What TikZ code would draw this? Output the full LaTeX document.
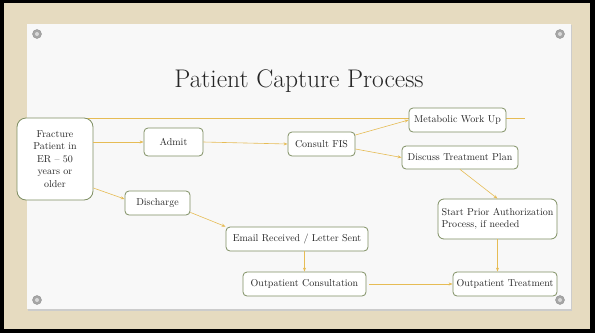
\documentclass[tikz,border=0pt]{standalone}
\usetikzlibrary{arrows.meta}

\definecolor{linen}{HTML}{E6DBC0}
\definecolor{slide}{HTML}{F8F8F8}
\definecolor{gold}{HTML}{E6BC55}
\definecolor{boxgreen}{HTML}{7F8F63}
\definecolor{textgrey}{HTML}{262626}

\begin{document}
\begin{tikzpicture}[x=1pt, y=-1pt,
    box/.style={draw=boxgreen, line width=0.8pt, fill=white, rounded corners=4pt,
        align=center, text=textgrey, inner sep=2pt, minimum height=24pt,
        font=\fontsize{10}{12.5}\selectfont},
    flow/.style={draw=gold, line width=0.6pt, -{Stealth[length=4pt, width=3pt]}},
    screw/.style={fill=gray!70, draw=gray!85, line width=0.4pt}]
        % Slide size in px
        \def\W{595}
        \def\H{333}
        \useasboundingbox (0,0) rectangle (\W,\H);

        % Frame, linen and slide
        \fill[black] (0,0) rectangle (\W,\H);
        \fill[linen] (4,3) rectangle (590,329);
        \fill[black!20] (28,25) rectangle (572,311);
        \fill[slide] (27,24) rectangle (571,309);

        % Screws in the corners
        \foreach \sx/\sy in {37/34, 560/34, 37/300, 560/300} {
            \filldraw[screw] (\sx,\sy) circle (4.5);
            \fill[gray!30] (\sx,\sy) circle (2);
        }

        % Title
        \node[text=textgrey, font=\fontsize{25.5}{30}\selectfont] (title) at (299,81) {Patient Capture Process};

        % Decoration line
        \draw[gold, line width=0.6pt] (27,118) -- (525,118);

        % Boxes
        \node[box, minimum width=76pt, minimum height=82pt, rounded corners=9pt] (fracture) at (55,159)
            {Fracture\\Patient in\\ER -- 50\\years or\\older};
        \node[box, minimum width=59pt, minimum height=28pt] (admit) at (173.5,142) {Admit};
        \node[box, minimum width=67pt] (consult) at (321.5,144) {Consult FIS};
        \node[box, minimum width=97pt] (metabolic) at (457.5,120) {Metabolic Work Up};
        \node[box, minimum width=116pt, minimum height=23pt] (discuss) at (460,157.5) {Discuss Treatment Plan};
        \node[box, minimum width=119pt, minimum height=40pt, align=left, rounded corners=6pt,
            text width=112pt, inner xsep=3.5pt] (prior) at (497.5,219)
            {Start Prior Authorization\\Process, if needed};
        \node[box, minimum width=65pt] (discharge) at (157.5,203) {Discharge};
        \node[box, minimum width=142pt] (email) at (297,239) {Email Received / Letter Sent};
        \node[box, minimum width=123pt] (ocons) at (304.5,284) {Outpatient Consultation};
        \node[box, minimum width=104pt] (otreat) at (505,284) {Outpatient Treatment};

        % Connectors
        \draw[flow] (fracture.east |- admit.west) -- (admit.west);
        \draw[flow] (admit.east) -- (consult.west);
        \draw[flow] ([yshift=9pt]consult.east) -- (metabolic.west);
        \draw[flow] ([yshift=-5pt]consult.east) -- (discuss.west);
        \draw[flow] (discuss.south) -- (prior.north);
        \draw[flow] (prior.south) -- (prior.south |- otreat.north);
        \draw[flow] ([yshift=-29pt]fracture.east) -- ([yshift=4pt]discharge.west);
        \draw[flow] ([yshift=3pt]discharge.south east) -- (email.north west);
        \draw[flow] (ocons.north |- email.south) -- (ocons.north);
        \draw[flow] ([xshift=3pt]ocons.east) -- (otreat.west);
    \end{tikzpicture}
\end{document}
